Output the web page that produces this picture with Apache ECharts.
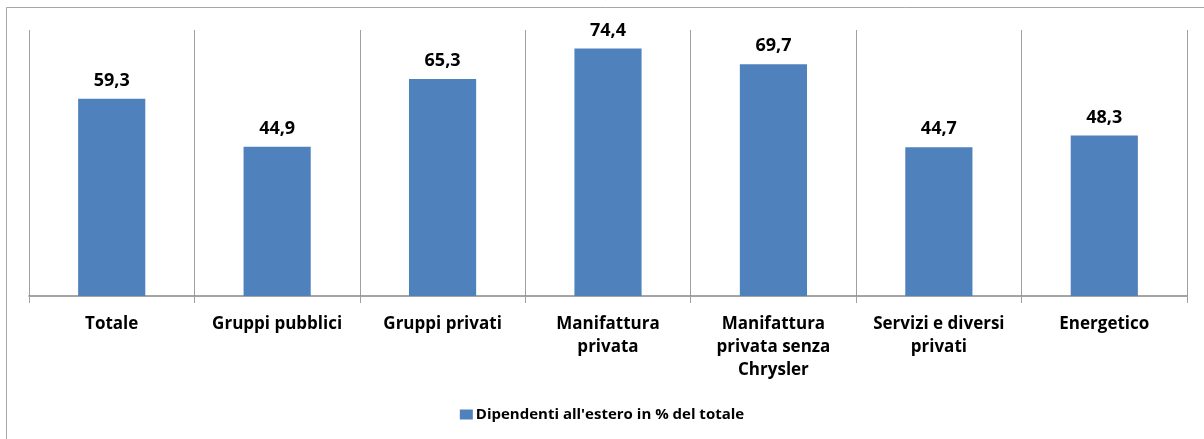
<!DOCTYPE html>
<html>
<head>
<meta charset="utf-8">
<script src="https://cdn.jsdelivr.net/npm/echarts@6/dist/echarts.min.js"></script>
<style>
  html, body { margin: 0; padding: 0; background: #fff; }
  #chart { width: 1204px; height: 439px; }
</style>
</head>
<body>
<div id="chart"></div>
<script>
// dati
const categories = [
  'Totale',
  'Gruppi pubblici',
  'Gruppi privati',
  'Manifattura\nprivata',
  'Manifattura\nprivata senza\nChrysler',
  'Servizi e diversi\nprivati',
  'Energetico'
];
const seriesName = "Dipendenti all'estero in % del totale";
const values = [59.3, 44.9, 65.3, 74.4, 69.7, 44.7, 48.3];

const chart = echarts.init(document.getElementById('chart'));

const option = {
  backgroundColor: '#fff',
  textStyle: { fontFamily: 'Open Sans, DejaVu Sans, sans-serif' },
  graphic: [{
    type: 'rect',
    shape: { x: 6.5, y: 7.5, width: 1210, height: 450 },
    style: { fill: 'none', stroke: '#a6a6a6', lineWidth: 1 },
    silent: true
  }],
  legend: {
    data: [seriesName],
    bottom: 12,
    left: 'center',
    itemWidth: 13,
    itemHeight: 10,
    itemGap: 4,
    icon: 'rect',
    textStyle: { fontSize: 15, fontWeight: 'bold', color: '#000', padding: [0, 0, 0, -2] }
  },
  grid: {
    left: 29,
    right: 17,
    top: 30,
    height: 266,
    containLabel: false
  },
  xAxis: {
    type: 'category',
    data: categories,
    axisLine: { lineStyle: { color: '#868686', width: 1.5 } },
    axisTick: { show: true, length: 7, lineStyle: { color: '#a0a0a0' } },
    splitLine: { show: true, lineStyle: { color: '#a0a0a0', width: 1 } },
    axisLabel: {
      color: '#000',
      fontSize: 17,
      fontWeight: 'bold',
      lineHeight: 23,
      margin: 17,
      interval: 0
    }
  },
  yAxis: {
    type: 'value',
    min: 0,
    max: 80,
    show: true,
    axisLine: { show: false },
    axisTick: { show: false },
    axisLabel: { show: false },
    splitLine: { show: false }
  },
  series: [{
    name: seriesName,
    type: 'bar',
    data: values,
    barWidth: '40.6%',
    itemStyle: { color: '#4f81bd' },
    label: {
      show: true,
      position: 'top',
      distance: 9,
      fontSize: 18,
      fontWeight: 'bold',
      color: '#000',
      formatter: p => p.value.toFixed(1).replace('.', ',')
    }
  }]
};

chart.setOption(option);
</script>
</body>
</html>
